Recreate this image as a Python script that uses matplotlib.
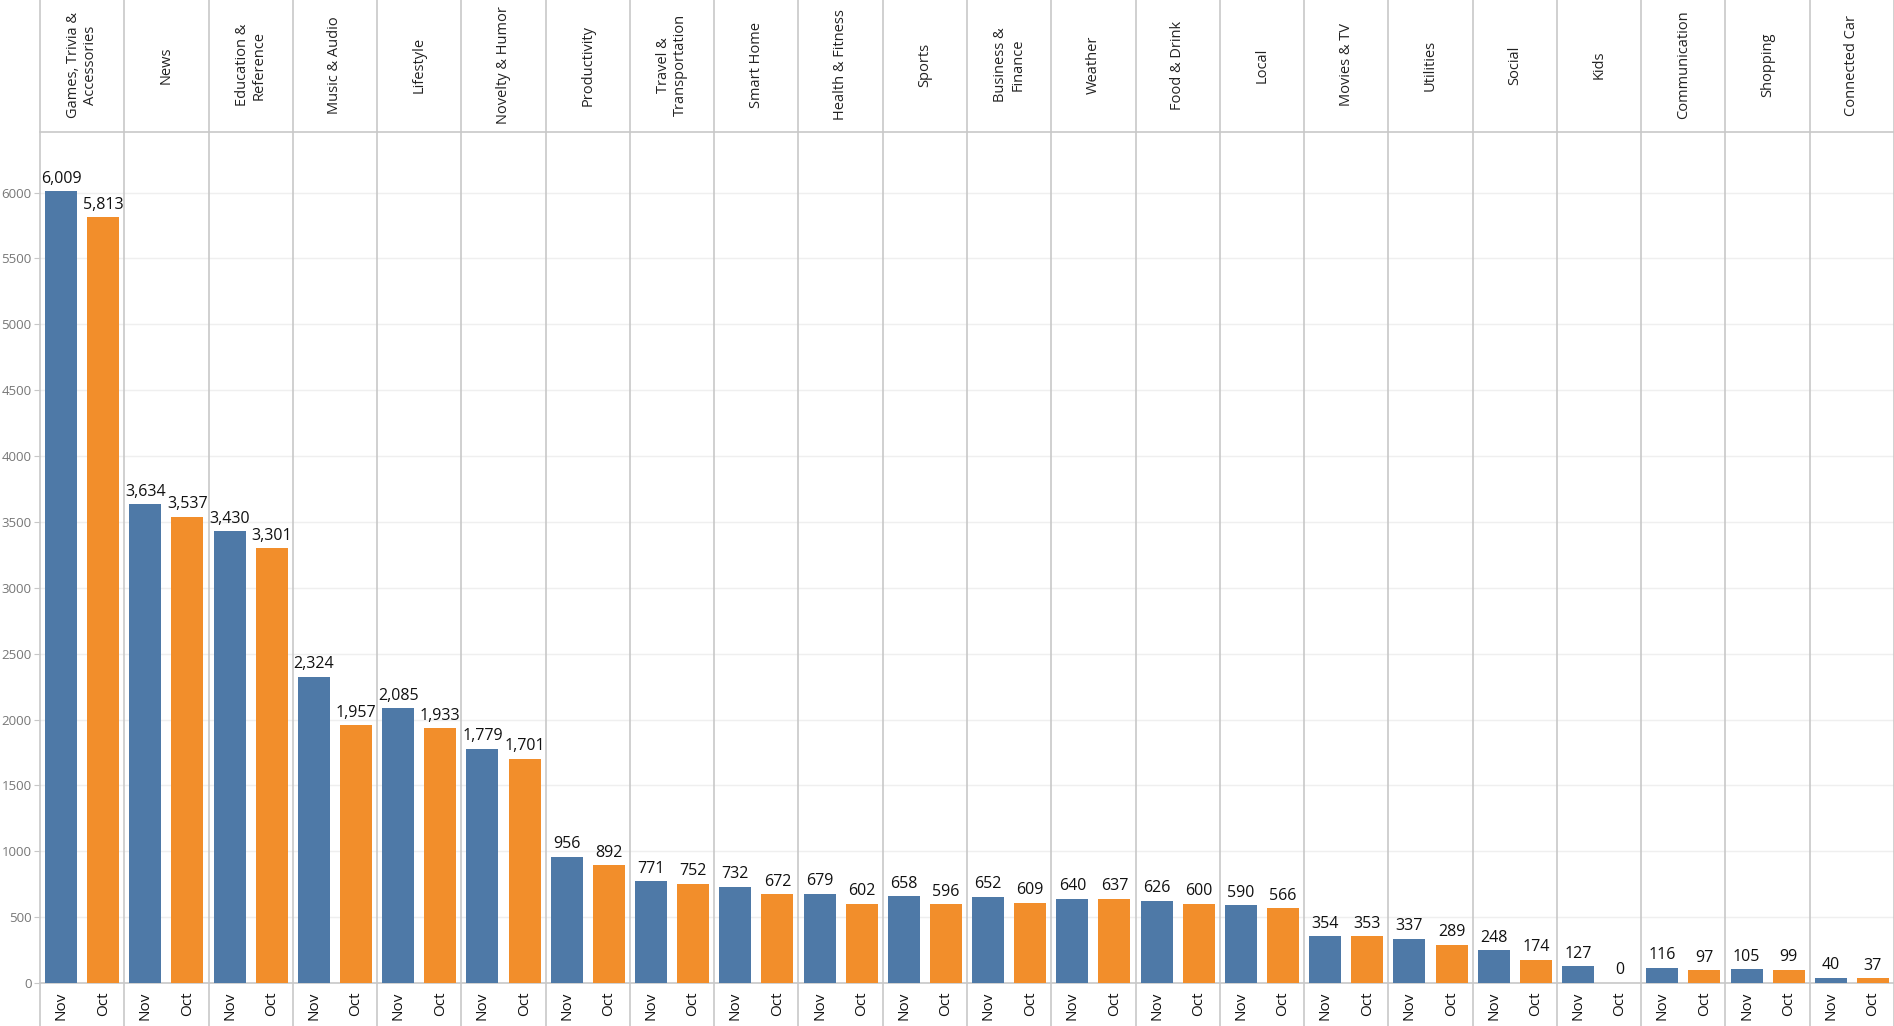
import matplotlib
matplotlib.use("Agg")
from matplotlib import pyplot as plt
from matplotlib.transforms import blended_transform_factory
from matplotlib.lines import Line2D

plt.rcParams["font.family"] = ["Open Sans", "DejaVu Sans"]

categories = ["Games, Trivia &\nAccessories", "News", "Education &\nReference", "Music & Audio",
              "Lifestyle", "Novelty & Humor", "Productivity", "Travel &\nTransportation",
              "Smart Home", "Health & Fitness", "Sports", "Business &\nFinance", "Weather",
              "Food & Drink", "Local", "Movies & TV", "Utilities", "Social", "Kids",
              "Communication", "Shopping", "Connected Car"]
nov = [6009, 3634, 3430, 2324, 2085, 1779, 956, 771, 732, 679, 658, 652, 640, 626, 590,
       354, 337, 248, 127, 116, 105, 40]
octo = [5813, 3537, 3301, 1957, 1933, 1701, 892, 752, 672, 602, 596, 609, 637, 600, 566,
        353, 289, 174, 0, 97, 99, 37]
months = ["Nov", "Oct"]
yticks = list(range(0, 6001, 500))

blue = "#4e79a7"
orange = "#f28e2b"
sep = "#c8c8c8"

W, H = 1894, 1026
fig = plt.figure(figsize=(W / 100, H / 100), dpi=100)
left, right, top, bottom = 40, 1894, 132, 983
ax = fig.add_axes([left / W, (H - bottom) / H, (right - left) / W, (bottom - top) / H])

n = len(categories)
xn = [i + 0.25 for i in range(n)]
xo = [i + 0.75 for i in range(n)]
ax.bar(xn, nov, width=0.38, color=blue, zorder=3)
ax.bar(xo, octo, width=0.38, color=orange, zorder=3)

for x, v in zip(xn + xo, nov + octo):
    ax.text(x, v + 35, f"{v:,}", ha="center", va="bottom", fontsize=11.5, color="#111111", zorder=4)

ax.set_xlim(0, n)
ax.set_ylim(0, 6460)
ax.set_yticks(yticks)
ax.set_yticklabels([str(t) for t in yticks], fontsize=9.5, color="#777777")
ax.tick_params(axis="y", length=4, color=sep, pad=2)
ax.grid(axis="y", color="#efefef", lw=1, zorder=0)

ticks = []
labels = []
for a, b in zip(xn, xo):
    ticks += [a, b]
    labels += months
ax.set_xticks(ticks)
ax.set_xticklabels(labels, rotation=90, fontsize=11, color="#111111")
ax.tick_params(axis="x", length=0, pad=6)

for s in ["top", "right", "left"]:
    ax.spines[s].set_visible(False)
ax.spines["bottom"].set_color(sep)
ax.spines["bottom"].set_linewidth(1.2)

# panel separators through header and footer
tr = blended_transform_factory(ax.transData, fig.transFigure)
for i in range(n + 1):
    fig.add_artist(Line2D([i, i], [0, 1], transform=tr, color=sep, lw=1.2, zorder=5))
fig.add_artist(Line2D([left / W, 1], [(H - top) / H, (H - top) / H], transform=fig.transFigure,
                      color=sep, lw=1.2))

for i, c in enumerate(categories):
    ax.text(i + 0.5, 1 - 65 / H, c, transform=tr, rotation=90, ha="center", va="center",
            multialignment="center", fontsize=10.5, color="#222222")

fig.savefig("out.png", dpi=100)
